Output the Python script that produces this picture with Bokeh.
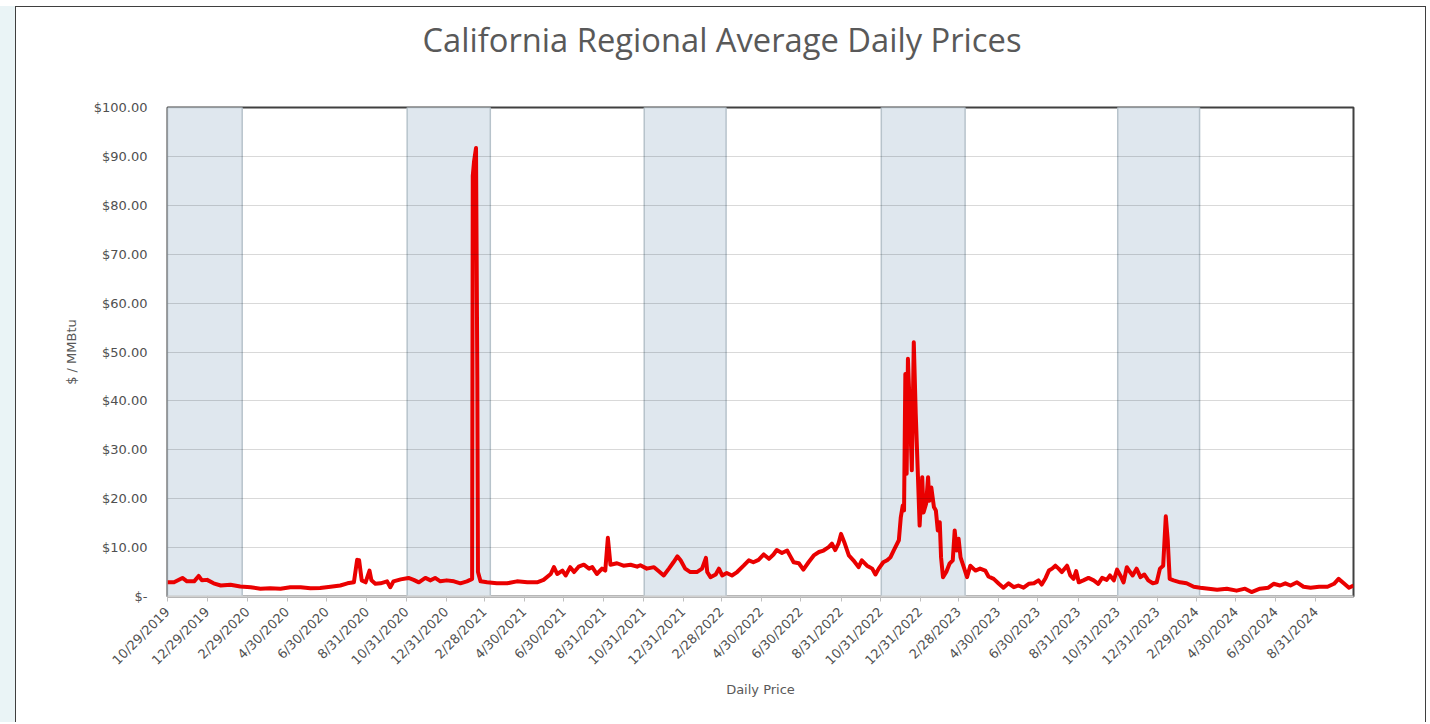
import math
import pandas as pd
from bokeh.plotting import figure
from bokeh.models import Range1d, FixedTicker, Title
from bokeh.embed import file_html
from bokeh.resources import INLINE

# ---------------- data ----------------
price_dates = [
    "2019-10-29", "2019-11-08", "2019-11-21", "2019-11-28", "2019-12-09", "2019-12-16", "2019-12-21",
    "2019-12-29", "2020-01-08", "2020-01-19", "2020-02-03", "2020-02-18", "2020-03-05", "2020-03-20",
    "2020-04-04", "2020-04-20", "2020-05-05", "2020-05-21", "2020-06-05", "2020-06-20", "2020-07-06",
    "2020-07-21", "2020-08-01", "2020-08-11", "2020-08-16", "2020-08-19", "2020-08-23", "2020-08-29",
    "2020-09-04", "2020-09-07", "2020-09-13", "2020-09-21", "2020-10-01", "2020-10-06", "2020-10-11",
    "2020-10-22", "2020-11-03", "2020-11-11", "2020-11-19", "2020-11-29", "2020-12-07", "2020-12-14",
    "2020-12-22", "2021-01-01", "2021-01-12", "2021-01-22", "2021-02-01", "2021-02-06", "2021-02-09",
    "2021-02-10", "2021-02-12", "2021-02-15", "2021-02-17", "2021-02-18", "2021-02-22", "2021-03-04",
    "2021-03-19", "2021-04-04", "2021-04-19", "2021-05-05", "2021-05-20", "2021-05-30", "2021-06-10",
    "2021-06-15", "2021-06-20", "2021-06-28", "2021-07-03", "2021-07-10", "2021-07-16", "2021-07-23",
    "2021-07-31", "2021-08-08", "2021-08-13", "2021-08-20", "2021-08-28", "2021-09-02", "2021-09-06",
    "2021-09-10", "2021-09-20", "2021-09-30", "2021-10-11", "2021-10-21", "2021-10-26", "2021-11-05",
    "2021-11-16", "2021-11-23", "2021-12-01", "2021-12-09", "2021-12-16", "2021-12-22", "2021-12-27",
    "2022-01-03", "2022-01-11", "2022-01-21", "2022-01-29", "2022-02-04", "2022-02-06", "2022-02-11",
    "2022-02-19", "2022-02-24", "2022-03-01", "2022-03-08", "2022-03-16", "2022-03-24", "2022-04-03",
    "2022-04-11", "2022-04-18", "2022-04-26", "2022-05-04", "2022-05-12", "2022-05-19", "2022-05-24",
    "2022-06-01", "2022-06-09", "2022-06-14", "2022-06-19", "2022-06-27", "2022-07-04", "2022-07-12",
    "2022-07-20", "2022-07-28", "2022-08-04", "2022-08-12", "2022-08-17", "2022-08-22", "2022-08-27",
    "2022-08-31", "2022-09-05", "2022-09-12", "2022-09-19", "2022-09-27", "2022-10-02", "2022-10-10",
    "2022-10-18", "2022-10-23", "2022-10-28", "2022-11-04", "2022-11-10", "2022-11-15", "2022-11-20",
    "2022-11-28", "2022-12-01", "2022-12-04", "2022-12-06", "2022-12-08", "2022-12-10", "2022-12-12",
    "2022-12-16", "2022-12-18", "2022-12-21", "2022-12-24", "2022-12-27", "2022-12-30", "2023-01-03",
    "2023-01-05", "2023-01-09", "2023-01-12", "2023-01-14", "2023-01-17", "2023-01-21", "2023-01-24",
    "2023-01-27", "2023-01-30", "2023-02-01", "2023-02-04", "2023-02-09", "2023-02-14", "2023-02-19",
    "2023-02-22", "2023-02-25", "2023-02-28", "2023-03-03", "2023-03-08", "2023-03-13", "2023-03-18",
    "2023-03-26", "2023-04-02", "2023-04-10", "2023-04-15", "2023-04-23", "2023-05-01", "2023-05-08",
    "2023-05-16", "2023-05-24", "2023-05-31", "2023-06-08", "2023-06-16", "2023-06-24", "2023-07-01",
    "2023-07-06", "2023-07-12", "2023-07-17", "2023-07-22", "2023-07-27", "2023-08-01", "2023-08-06",
    "2023-08-14", "2023-08-19", "2023-08-24", "2023-08-28", "2023-09-01", "2023-09-08", "2023-09-16",
    "2023-09-24", "2023-10-01", "2023-10-07", "2023-10-14", "2023-10-19", "2023-10-25", "2023-10-30",
    "2023-11-04", "2023-11-09", "2023-11-14", "2023-11-19", "2023-11-23", "2023-11-29", "2023-12-05",
    "2023-12-11", "2023-12-17", "2023-12-24", "2023-12-30", "2024-01-04", "2024-01-09", "2024-01-13",
    "2024-01-16", "2024-01-19", "2024-01-25", "2024-02-04", "2024-02-14", "2024-02-25", "2024-03-06",
    "2024-03-19", "2024-04-01", "2024-04-16", "2024-05-01", "2024-05-14", "2024-05-24", "2024-06-06",
    "2024-06-19", "2024-06-27", "2024-07-07", "2024-07-15", "2024-07-23", "2024-08-02", "2024-08-12",
    "2024-08-23", "2024-09-05", "2024-09-18", "2024-09-28", "2024-10-05", "2024-10-13", "2024-10-21",
    "2024-10-28",
]
prices = [
    2.9, 2.9, 3.8, 3.1, 3.1, 4.2, 3.3,
    3.4, 2.7, 2.25, 2.4, 2.05, 1.9, 1.6,
    1.7, 1.6, 1.9, 1.9, 1.7, 1.75, 2.0,
    2.25, 2.7, 2.9, 7.5, 7.4, 3.3, 2.9,
    5.3, 3.3, 2.6, 2.7, 3.1, 1.9, 3.1,
    3.5, 3.8, 3.4, 2.9, 3.8, 3.3, 3.8,
    3.1, 3.3, 3.1, 2.7, 3.1, 3.4, 3.6,
    86.0, 89.0, 91.7, 45.0, 5.0, 3.1, 2.9,
    2.7, 2.7, 3.1, 2.9, 2.9, 3.4, 4.6,
    6.0, 4.6, 5.3, 4.3, 6.0, 5.0, 6.1,
    6.5, 5.7, 6.0, 4.6, 5.7, 5.3, 12.0,
    6.5, 6.8, 6.3, 6.5, 6.1, 6.4, 5.7,
    6.0, 5.2, 4.3, 5.7, 7.0, 8.2, 7.4,
    5.7, 5.0, 5.0, 5.7, 7.9, 5.0, 3.95,
    4.5, 5.7, 4.3, 4.8, 4.3, 5.0, 6.3,
    7.4, 7.0, 7.5, 8.6, 7.7, 8.6, 9.5,
    8.9, 9.4, 8.2, 7.0, 6.8, 5.5, 7.0,
    8.4, 9.1, 9.4, 10.1, 10.8, 9.5, 10.8,
    12.8, 11.1, 8.4, 7.4, 6.0, 7.4, 6.3,
    5.7, 4.5, 5.7, 7.0, 7.4, 8.0, 9.4,
    11.5, 16.2, 18.6, 17.6, 45.5, 25.1, 48.6,
    34.0, 25.8, 52.0, 37.4, 26.1, 14.5, 24.4,
    17.2, 19.0, 24.4, 19.6, 22.3, 18.3, 17.6,
    13.5, 15.2, 8.0, 3.95, 5.0, 6.7, 7.4,
    13.5, 9.4, 11.8, 8.0, 6.0, 3.95, 6.3,
    5.3, 5.7, 5.3, 4.1, 3.6, 2.6, 1.8,
    2.7, 1.9, 2.25, 1.8, 2.6, 2.7, 3.3,
    2.45, 3.8, 5.3, 5.7, 6.3, 5.7, 5.0,
    6.3, 4.3, 3.6, 5.2, 2.9, 3.3, 3.8,
    3.3, 2.6, 3.8, 3.4, 4.3, 3.3, 5.5,
    4.3, 2.9, 6.0, 5.0, 4.3, 5.7, 3.95,
    4.5, 3.3, 2.7, 2.9, 5.7, 6.3, 16.4,
    11.5, 3.6, 3.3, 2.9, 2.7, 2.0, 1.8,
    1.6, 1.4, 1.6, 1.2, 1.6, 0.9, 1.6,
    1.8, 2.6, 2.25, 2.7, 2.25, 2.9, 2.0,
    1.8, 2.0, 2.0, 2.6, 3.6, 2.7, 1.8,
    2.25,
]

# winter (shaded) periods
winter_starts = ["2019-10-29", "2020-11-01", "2021-11-01", "2022-11-01", "2023-10-31"]
winter_ends = ["2020-02-21", "2021-03-09", "2022-03-07", "2023-03-10", "2024-03-05"]

x_tick_labels = [
    "10/29/2019", "12/29/2019", "2/29/2020", "4/30/2020", "6/30/2020", "8/31/2020",
    "10/31/2020", "12/31/2020", "2/28/2021", "4/30/2021", "6/30/2021", "8/31/2021",
    "10/31/2021", "12/31/2021", "2/28/2022", "4/30/2022", "6/30/2022", "8/31/2022",
    "10/31/2022", "12/31/2022", "2/28/2023", "4/30/2023", "6/30/2023", "8/31/2023",
    "10/31/2023", "12/31/2023", "2/29/2024", "4/30/2024", "6/30/2024", "8/31/2024",
]
y_ticks = [0, 10, 20, 30, 40, 50, 60, 70, 80, 90, 100]
y_tick_labels = ["$-", "$10.00", "$20.00", "$30.00", "$40.00", "$50.00",
                 "$60.00", "$70.00", "$80.00", "$90.00", "$100.00"]
x_start, x_end = "2019-10-29", "2024-10-28"

# ---------------- build ----------------
def ms(s):
    return pd.Timestamp(s).value // 10**6

x = pd.to_datetime(price_dates)
GREY = "#595959"

p = figure(width=1411, height=716, output_backend="svg", toolbar_location=None,
           x_axis_type="datetime",
           x_range=Range1d(ms(x_start), ms(x_end)), y_range=Range1d(0, 100),
           min_border_left=151, min_border_right=74, min_border_top=0, min_border_bottom=127)
p.styles = {"margin-left": "15px", "margin-top": "6px",
            "border-left": "1.5px solid #3f3f3f", "border-top": "1.5px solid #3f3f3f",
            "border-right": "1.5px solid #3f3f3f",
            "box-shadow": "-15px 0 0 0 #eaf4f6"}

p.title = None
# spacer panel (closest to the frame) + real title (outermost)
spacer = Title(text=" ", text_font_size="10px", standoff=26, text_color="white")
t = Title(text="California Regional Average Daily Prices", align="left", offset=255,
          text_font="Open Sans", text_font_size="32.7px", text_color=GREY,
          text_font_style="normal", standoff=14)
p.add_layout(spacer, "above")
p.add_layout(t, "above")

p.quad(left=pd.to_datetime(winter_starts), right=pd.to_datetime(winter_ends), bottom=0, top=100,
       fill_color="#dfe7ee", line_color="#b7c3cb", line_width=1.5, level="underlay")

p.line(x, prices, line_color="#ea0000", line_width=4, line_join="round")

p.outline_line_color = "#404040"
p.outline_line_width = 2
p.background_fill_color = "white"
p.border_fill_color = "white"

p.xgrid.visible = False
p.ygrid.grid_line_color = "black"
p.ygrid.grid_line_alpha = 0.15
p.ygrid.level = "glyph"
p.ygrid.ticker = FixedTicker(ticks=y_ticks)

p.yaxis.ticker = FixedTicker(ticks=y_ticks)
p.yaxis.major_label_overrides = {t_: l_ for t_, l_ in zip(y_ticks, y_tick_labels)}
p.yaxis.axis_line_color = None
p.yaxis.major_tick_line_color = None
p.yaxis.minor_tick_line_color = None
p.yaxis.major_label_standoff = 14
p.yaxis.major_label_text_font = "DejaVu Sans"
p.yaxis.major_label_text_font_size = "13px"
p.yaxis.major_label_text_color = "#505050"
p.yaxis.axis_label = "$ / MMBtu"
p.yaxis.axis_label_text_font = "DejaVu Sans"
p.yaxis.axis_label_text_font_size = "13px"
p.yaxis.axis_label_text_font_style = "normal"
p.yaxis.axis_label_text_color = GREY
p.yaxis.axis_label_standoff = 12

xt = [ms(pd.to_datetime(s, format="%m/%d/%Y")) for s in x_tick_labels]
p.xaxis.ticker = FixedTicker(ticks=xt)
p.xaxis.major_label_overrides = {t_: l_ for t_, l_ in zip(xt, x_tick_labels)}
p.xaxis.major_label_orientation = math.pi / 4
p.xaxis.axis_line_color = "#d0d0d0"
p.xaxis.axis_line_width = 2
p.xaxis.major_tick_line_color = "#bfbfbf"
p.xaxis.major_tick_out = 5
p.xaxis.major_tick_in = 0
p.xaxis.minor_tick_line_color = None
p.xaxis.major_label_standoff = 8
p.xaxis.major_label_text_font = "DejaVu Sans"
p.xaxis.major_label_text_font_size = "13px"
p.xaxis.major_label_text_color = "#505050"
p.xaxis.axis_label = "Daily Price"
p.xaxis.axis_label_text_font = "DejaVu Sans"
p.xaxis.axis_label_text_font_size = "13px"
p.xaxis.axis_label_text_font_style = "normal"
p.xaxis.axis_label_text_color = GREY
p.xaxis.axis_label_standoff = 6

open("out.html", "w").write(file_html(p, INLINE))
